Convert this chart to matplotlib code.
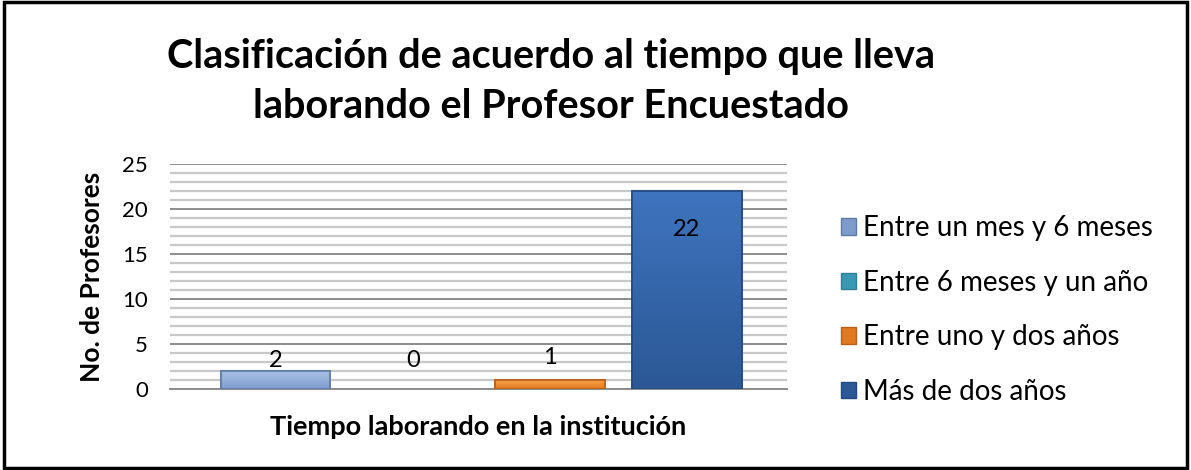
import matplotlib
matplotlib.use("Agg")
import numpy as np
import matplotlib.pyplot as plt
from matplotlib.patches import Patch, Rectangle
from matplotlib.ticker import MultipleLocator
from matplotlib.colors import LinearSegmentedColormap

series = ["Entre un mes y 6 meses", "Entre 6 meses y un año",
          "Entre uno y dos años", "Más de dos años"]
values = [2, 0, 1, 22]
top_colors = ["#A8C0E8", "#5BC0DA", "#F7A048", "#3E74BE"]
bot_colors = ["#7E9CCB", "#3A98B2", "#E07A20", "#2C5896"]
edges = ["#5E7BA8", "#2E8098", "#B8601C", "#234A80"]
title = "Clasificación de acuerdo al tiempo que lleva\nlaborando el Profesor Encuestado"
xlabel = "Tiempo laborando en la institución"
ylabel = "No. de Profesores"

plt.rcParams['font.family'] = ["Lato", 'DejaVu Sans']

fig = plt.figure(figsize=(11.91, 4.70), dpi=100)
fig.patch.set_facecolor("white")
ax = fig.add_axes([170/1191, 1-389/470, (787-170)/1191, (389-164)/470])

x = list(range(len(values)))
lws = [1.2 if v > 0 else 0 for v in values]
bars = ax.bar(x, values, width=0.8, color=bot_colors, edgecolor=edges,
              linewidth=lws, zorder=3)
grad = np.linspace(0, 1, 64).reshape(-1, 1)
for b, ct, cb, v in zip(bars, top_colors, bot_colors, values):
    if v <= 0:
        continue
    cmap = LinearSegmentedColormap.from_list("g", [ct, cb])
    x0, y0 = b.get_x(), b.get_y()
    im = ax.imshow(grad, extent=[x0, x0 + b.get_width(), y0, y0 + b.get_height()],
                   aspect="auto", cmap=cmap, zorder=3.5, origin="upper")
    im.set_clip_path(b)
    ax.bar(b.get_x() + b.get_width()/2, v, width=0.8, fill=False,
           edgecolor=b.get_edgecolor(), linewidth=1.2, zorder=3.6)

# label offsets in points (Excel places small labels a bit above the bars)
label_offsets = [0, 13, 9, -20]
for xi, v, off in zip(x, values, label_offsets):
    ax.annotate(str(v), (xi, v), xytext=(0, off), textcoords="offset points",
                ha="center", va="top" if off < 0 else "bottom",
                fontsize=17, zorder=4)

ax.set_xlim(-0.77, 3.73)
ax.set_ylim(0, 25)
ax.yaxis.set_major_locator(MultipleLocator(5))
ax.yaxis.set_minor_locator(MultipleLocator(1))
ax.grid(which="minor", axis="y", color="#C8C8C8", linewidth=1.6, zorder=0)
ax.grid(which="major", axis="y", color="#8C8C8C", linewidth=1.4, zorder=1)
ax.set_xticks([])
ax.tick_params(axis="y", which="both", length=0, labelsize=16, pad=16)
for s in ["top", "right", "left"]:
    ax.spines[s].set_visible(False)
ax.spines["bottom"].set_color("#8C8C8C")
ax.spines["bottom"].set_linewidth(1.4)

ax.set_xlabel(xlabel, fontsize=19.5, fontweight="bold", labelpad=19)
ax.set_ylabel(ylabel, fontsize=19, fontweight="bold", labelpad=13)

fig.text(0.463, 0.735, title, ha="center", va="bottom", fontsize=28.5,
         fontweight="bold", linespacing=1.42)

handles = [Patch(facecolor=c, edgecolor=e) for c, e in zip(bot_colors, edges)]
fig.legend(handles, series, loc="center left", bbox_to_anchor=(830/1191, 1-310/470),
           frameon=False, fontsize=20, labelspacing=1.03, handlelength=0.55,
           handleheight=0.55, handletextpad=0.25, borderaxespad=0)

fig.add_artist(Rectangle((0.003, 0.005), 0.994, 0.99, transform=fig.transFigure,
                         fill=False, edgecolor="black", linewidth=2.5))

fig.savefig("out.png", dpi=100, facecolor="white")
